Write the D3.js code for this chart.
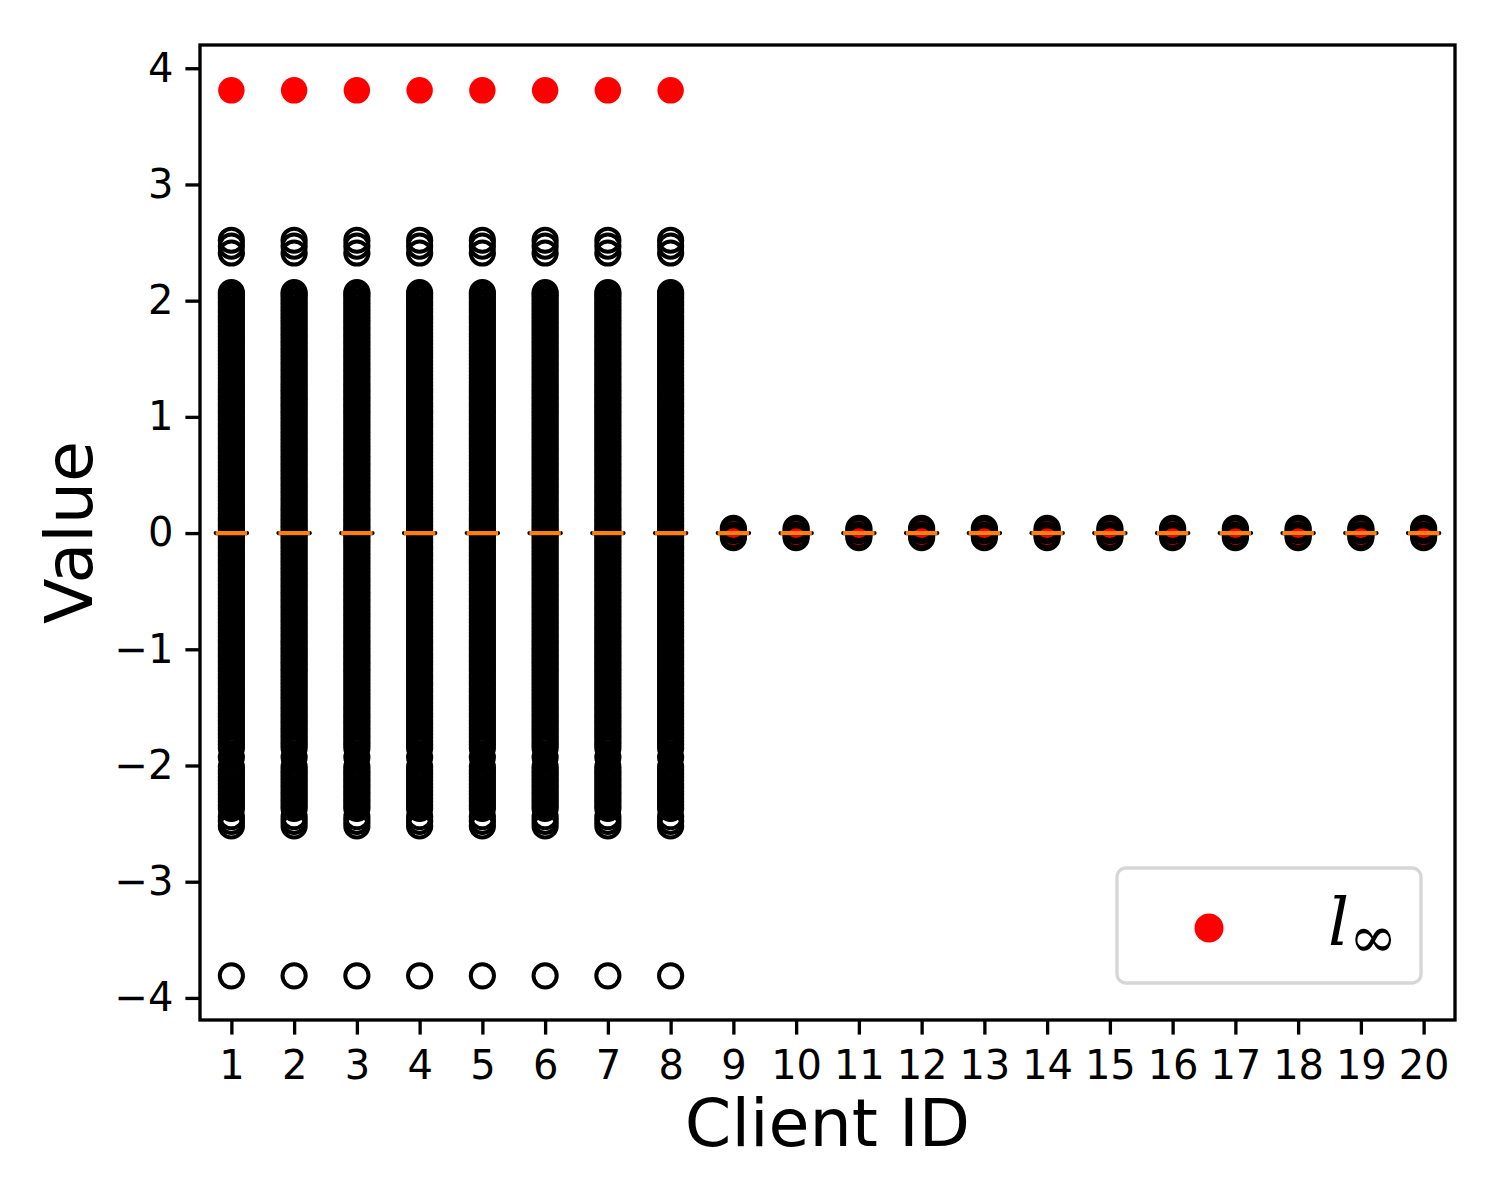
<!DOCTYPE html>
<html><head><meta charset="utf-8">
<script src="https://cdn.jsdelivr.net/npm/d3@7"></script>
<style>body{margin:0;background:#fff}</style>
</head><body><svg id="c" width="1500" height="1200"></svg>
<script>
// ---- data ----
const clients = [1,2,3,4,5,6,7,8,9,10,11,12,13,14,15,16,17,18,19,20];
const linfValues = [3.81,3.81,3.81,3.81,3.81,3.81,3.81,3.81,0,0,0,0,0,0,0,0,0,0,0,0];
const medians = [0,0,0,0,0,0,0,0,0,0,0,0,0,0,0,0,0,0,0,0];
const q1Values = [0,0,0,0,0,0,0,0,0,0,0,0,0,0,0,0,0,0,0,0];
const q3Values = [0,0,0,0,0,0,0,0,0,0,0,0,0,0,0,0,0,0,0,0];
const attackedClients = [1,2,3,4,5,6,7,8];
const attackedFliers = [2.52,2.47,2.41,2.07,2.05,2.02,1.99,1.96,1.93,1.90,1.87,1.84,1.81,1.78,1.75,1.72,1.69,1.66,1.63,1.60,1.57,1.54,1.51,1.48,1.45,1.42,1.39,1.36,1.33,1.30,1.27,1.24,1.21,1.18,1.15,1.12,1.09,1.06,1.03,1.00,0.97,0.94,0.91,0.88,0.85,0.82,0.79,0.76,0.73,0.70,0.67,0.64,0.61,0.58,0.55,0.52,0.49,0.46,0.43,0.40,0.37,0.34,0.31,0.28,0.25,0.22,0.19,0.16,0.13,0.10,0.07,0.04,0.01,
 -0.02,-0.05,-0.08,-0.11,-0.14,-0.17,-0.20,-0.23,-0.26,-0.29,-0.32,-0.35,-0.38,-0.41,-0.44,-0.47,-0.50,-0.53,-0.56,-0.59,-0.62,-0.65,-0.68,-0.71,-0.74,-0.77,-0.80,-0.83,-0.86,-0.89,-0.92,-0.95,-0.98,-1.01,-1.04,-1.07,-1.10,-1.13,-1.16,-1.19,-1.22,-1.25,-1.28,-1.31,-1.34,-1.37,-1.40,-1.43,-1.46,-1.49,-1.52,-1.55,-1.58,-1.61,-1.64,-1.67,-1.70,-1.73,-1.76,-1.79,-1.82,-1.85,-1.93,-2.01,-2.04,-2.07,-2.10,-2.13,-2.16,-2.19,-2.22,-2.25,-2.28,-2.31,-2.34,-2.37,-2.44,-2.48,-2.52,-3.81];
const benignFliers = [-0.04,-0.02,0.02,0.04];
const yTicks = [-4,-3,-2,-1,0,1,2,3,4];
const xLabel = "Client ID";
const yLabel = "Value";

// ---- layout ----
const svg = d3.select("#c");
const L = 200, R = 1455, T = 45, B = 1020;
const x = d3.scaleLinear().domain([0.5, 20.5]).range([L, R]);
const y = d3.scaleLinear().domain([-4.19, 4.2]).range([B, T]);
const FONT = "DejaVu Sans, sans-serif";
const boxW = 0.5, capW = 0.25;
const lw = 4.17;

// red l_inf points (drawn first)
svg.append("g").selectAll("circle").data(clients).join("circle")
  .attr("cx", (c) => x(c)).attr("cy", (c, i) => y(linfValues[i]))
  .attr("r", 13.2).attr("fill", "#ff0000");

// boxplots
const gBox = svg.append("g");
clients.forEach((c, i) => {
  const fl = attackedClients.includes(c) ? attackedFliers : benignFliers;
  const g = gBox.append("g");
  g.selectAll("circle").data(fl).join("circle")
    .attr("cx", x(c)).attr("cy", (v) => y(v)).attr("r", 11.6)
    .attr("fill", "none").attr("stroke", "#000").attr("stroke-width", 4);
  g.append("line").attr("x1", x(c - capW/2)).attr("x2", x(c + capW/2))
    .attr("y1", y(q1Values[i])).attr("y2", y(q1Values[i]))
    .attr("stroke", "#000").attr("stroke-width", lw);
  g.append("path")
    .attr("d", `M${x(c-boxW/2)},${y(q1Values[i])}H${x(c+boxW/2)}V${y(q3Values[i])}H${x(c-boxW/2)}Z`)
    .attr("fill", "none").attr("stroke", "#000").attr("stroke-width", lw)
    .attr("stroke-linejoin", "round").attr("stroke-linecap", "round");
  g.append("line").attr("x1", x(c - boxW/2)).attr("x2", x(c + boxW/2))
    .attr("y1", y(medians[i])).attr("y2", y(medians[i]))
    .attr("stroke", "#ff7f0e").attr("stroke-width", lw);
});

// axes frame
svg.append("rect").attr("x", L).attr("y", T).attr("width", R - L).attr("height", B - T)
  .attr("fill", "none").attr("stroke", "#000").attr("stroke-width", 3.33);

// x axis
const xAxis = d3.axisBottom(x).tickValues(clients).tickFormat(d3.format("d"))
  .tickSize(14.6).tickPadding(16);
const gx = svg.append("g").attr("transform", `translate(0,${B})`).call(xAxis);
gx.select(".domain").remove();
gx.selectAll(".tick line").attr("stroke-width", 3.33);
gx.selectAll(".tick text").attr("font-family", FONT).attr("font-size", 40).attr("fill", "#000");

// y axis
const yAxis = d3.axisLeft(y).tickValues(yTicks)
  .tickFormat((d) => (d < 0 ? "\u2212" + Math.abs(d) : String(d)))
  .tickSize(14.6).tickPadding(12);
const gy = svg.append("g").attr("transform", `translate(${L},0)`).call(yAxis);
gy.select(".domain").remove();
gy.selectAll(".tick line").attr("stroke-width", 3.33);
gy.selectAll(".tick text").attr("font-family", FONT).attr("font-size", 40).attr("fill", "#000");

// axis labels
svg.append("text").attr("x", (L + R) / 2).attr("y", 1146).attr("text-anchor", "middle")
  .attr("font-family", FONT).attr("font-size", 66.7).text(xLabel);
svg.append("text").attr("transform", `translate(92,${(T + B) / 2}) rotate(-90)`)
  .attr("text-anchor", "middle").attr("font-family", FONT).attr("font-size", 66.7).text(yLabel);

// legend
const lg = svg.append("g");
lg.append("rect").attr("x", 1117).attr("y", 868).attr("width", 304).attr("height", 115)
  .attr("rx", 9).attr("fill", "#fff").attr("fill-opacity", 0.8)
  .attr("stroke", "#d6d6d6").attr("stroke-width", 3.3);
lg.append("circle").attr("cx", 1209).attr("cy", 928).attr("r", 14.5).attr("fill", "#ff0000");
const lt = lg.append("text").attr("x", 1328).attr("y", 945).attr("font-family", "DejaVu Serif, serif");
lt.append("tspan").attr("font-style", "italic").attr("font-size", 66).text("l");
lt.append("tspan").attr("font-size", 58).attr("dy", 12).attr("dx", 0).text("\u221E");
</script>
</body></html>
